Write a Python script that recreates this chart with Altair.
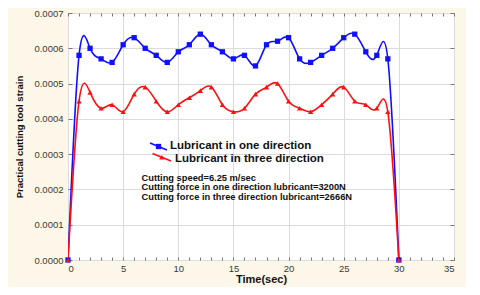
import altair as alt
import pandas as pd

# ---- data ----
time_s = list(range(0, 31))
one_dir = [0, 0.00058, 0.00060, 0.00057, 0.00056, 0.00061, 0.00063, 0.00060, 0.00058, 0.00056,
           0.00059, 0.00061, 0.00064, 0.00061, 0.00059, 0.00057, 0.00058, 0.00055, 0.00061, 0.00062,
           0.00063, 0.00057, 0.00056, 0.00058, 0.00060, 0.00063, 0.00064, 0.00059, 0.00058, 0.00057, 0]
three_dir = [0, 0.00045, 0.000475, 0.00043, 0.00044, 0.00042, 0.00047, 0.00049, 0.00045, 0.00042,
             0.00044, 0.00046, 0.00048, 0.00049, 0.00044, 0.00042, 0.00043, 0.00047, 0.00049, 0.00050,
             0.00045, 0.00043, 0.00042, 0.00044, 0.00047, 0.00049, 0.00045, 0.00044, 0.00043, 0.00042, 0]
series_names = ["Lubricant in one direction", "Lubricant in three direction"]
series_colors = ["#1010ff", "#ff1010"]
series_shapes = ["square", "triangle-up"]
x_ticks = [0, 5, 10, 15, 20, 25, 30, 35]
x_minor = list(range(0, 36))
y_ticks = [0, 0.0001, 0.0002, 0.0003, 0.0004, 0.0005, 0.0006, 0.0007]
notes = ["Cutting speed=6.25 m/sec",
         "Cutting force in one direction lubricant=3200N",
         "Cutting force in three direction lubricant=2666N"]

df = pd.concat([
    pd.DataFrame({"t": time_s, "v": one_dir, "s": series_names[0]}),
    pd.DataFrame({"t": time_s, "v": three_dir, "s": series_names[1]}),
])

FONT = "Liberation Sans"
xs = alt.Scale(domain=[0, 35], nice=False)
ys = alt.Scale(domain=[0, 0.0007], nice=False)

x_enc = alt.X("t:Q", scale=xs,
              axis=alt.Axis(values=x_ticks, title="Time(sec)", ticks=False, labelPadding=3,
                            titlePadding=1, domain=False))
y_enc = alt.Y("v:Q", scale=ys,
              axis=alt.Axis(values=y_ticks, format=".4f", title="Practical cutting tool strain",
                            ticks=False, labelPadding=5, titlePadding=9, domain=False,
                            labelOverlap=False, titleFontSize=9.5))
color_enc = alt.Color("s:N", scale=alt.Scale(domain=series_names, range=series_colors), legend=None)
shape_enc = alt.Shape("s:N", scale=alt.Scale(domain=series_names, range=series_shapes), legend=None)

base = alt.Chart(df)
lines = base.mark_line(interpolate="natural", strokeWidth=1.6, clip=True).encode(
    x=x_enc, y=y_enc, color=color_enc, detail="s:N")
points = base.mark_point(filled=True, size=28, opacity=1).encode(
    x=alt.X("t:Q", scale=xs, axis=None), y=alt.Y("v:Q", scale=ys, axis=None),
    color=color_enc, shape=shape_enc)


def tick_layer(xorient, yorient):
    return base.mark_point(opacity=0).encode(
        x=alt.X("t:Q", scale=xs, axis=alt.Axis(orient=xorient, values=x_minor, labels=False, grid=False,
                                               domain=False, title=None, ticks=True, tickSize=3,
                                               offset=-3, tickColor="#777")),
        y=alt.Y("v:Q", scale=ys, axis=alt.Axis(orient=yorient, values=y_ticks, labels=False, grid=False,
                                               domain=False, title=None, ticks=True, tickSize=4,
                                               offset=-4, tickColor="#777")))


ticks_a = tick_layer("bottom", "left")
ticks_b = tick_layer("top", "right")

one = alt.Data(values=[{}])
leg_line1 = alt.Chart(one).mark_rule(color=series_colors[0], strokeWidth=1.6).encode(
    x=alt.value(82), x2=alt.value(99), y=alt.value(130), y2=alt.value(137))
leg_pt1 = alt.Chart(one).mark_point(filled=True, size=28, shape="square", color=series_colors[0], opacity=1).encode(
    x=alt.value(90.5), y=alt.value(133.5))
leg_txt1 = alt.Chart(one).mark_text(text=series_names[0], align="left", baseline="middle",
                                    fontSize=11.5, fontWeight="bold", font=FONT, color="#111").encode(
    x=alt.value(102), y=alt.value(133))
leg_line2 = alt.Chart(one).mark_rule(color=series_colors[1], strokeWidth=1.6).encode(
    x=alt.value(84.5), x2=alt.value(103), y=alt.value(140.5), y2=alt.value(148))
leg_pt2 = alt.Chart(one).mark_point(filled=True, size=28, shape="triangle-up", color=series_colors[1], opacity=1).encode(
    x=alt.value(93.8), y=alt.value(144.3))
leg_txt2 = alt.Chart(one).mark_text(text=series_names[1], align="left", baseline="middle",
                                    fontSize=11.5, fontWeight="bold", font=FONT, color="#111").encode(
    x=alt.value(107), y=alt.value(145.5))
note_txt = alt.Chart(one).mark_text(text=notes, align="left", baseline="middle", lineHeight=9.5,
                                    fontSize=9.3, fontWeight="bold", font=FONT, color="#111").encode(
    x=alt.value(73.5), y=alt.value(164.5))

chart = alt.layer(lines, points, ticks_a, ticks_b, leg_line1, leg_pt1, leg_txt1, leg_line2, leg_pt2,
                  leg_txt2, note_txt).resolve_axis(x="independent", y="independent").properties(
    width=386, height=247,
    autosize=alt.AutoSizeParams(type="none"),
    padding={"left": 60, "top": 5, "right": 12, "bottom": 27},
    background="#fcf7e9",
).configure_view(
    fill="white", stroke="#8a8a8a", strokeWidth=1
).configure_axis(
    labelFont=FONT, titleFont=FONT, labelFontSize=9.5, labelColor="#3a3a3a",
    titleFontSize=11, titleFontWeight="bold", titleColor="#111",
    gridColor="#dcdcdc", gridWidth=1
)

chart.save("out.html", embed_options={"renderer": "svg", "actions": False})
